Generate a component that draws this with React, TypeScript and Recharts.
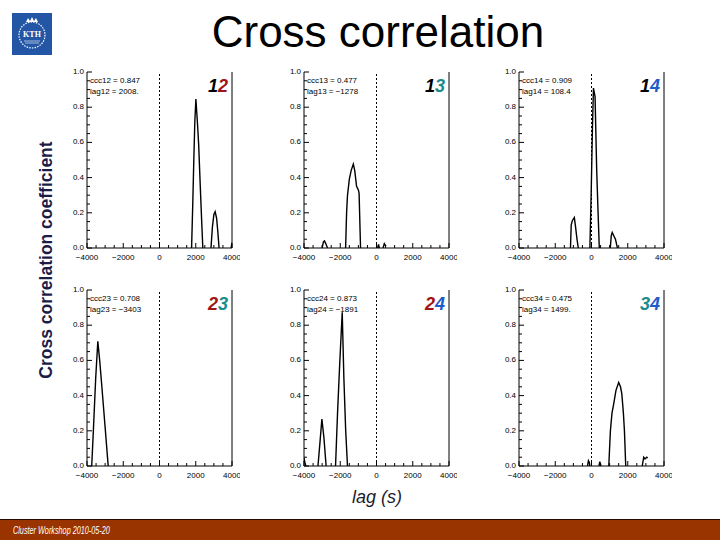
import { LineChart, Line, XAxis, YAxis, ReferenceLine } from 'recharts'

// tick positions (major + minor) and the labelled ones
const lagTicks = [-4000, -3500, -3000, -2500, -2000, -1500, -1000, -500, 0, 500, 1000, 1500, 2000, 2500, 3000, 3500, 4000]
const lagLabels = [-4000, -2000, 0, 2000, 4000]
const ccTicks = [0, 0.05, 0.1, 0.15, 0.2, 0.25, 0.3, 0.35, 0.4, 0.45, 0.5, 0.55, 0.6, 0.65, 0.7, 0.75, 0.8, 0.85, 0.9, 0.95, 1]
const ccLabels = [0, 0.2, 0.4, 0.6, 0.8, 1]

// curves: only the positive parts are drawn, null breaks the line
const lag12 = [1770, 1840, 1893, 1950, 2008, 2100, 2160, 2250, 2320, 2390, 2600, 2840, 2920, 3000, 3071, 3150, 3220, 3286, 3600, 3950, 4000]
const cc12 = [0, 0.27, 0.5, 0.72, 0.847, 0.7, 0.59, 0.35, 0.17, 0, null, 0, 0.12, 0.19, 0.206, 0.17, 0.09, 0, null, 0, 0.03]

const lag13 = [-3000, -2930, -2870, -2800, -2700, -2200, -1704, -1650, -1600, -1500, -1400, -1278, -1200, -1100, -1000, -960, -880, -300, 60, 110, 160, 250, 360, 430, 520]
const cc13 = [0, 0.035, 0.04, 0.025, 0, null, 0, 0.2, 0.3, 0.39, 0.44, 0.477, 0.44, 0.35, 0.33, 0.31, 0, null, 0, 0.02, 0, null, 0, 0.025, 0.01]

const lag14 = [-1160, -1120, -1060, -946, -880, -800, -730, -400, -89, -18, 54, 108, 196, 286, 357, 430, 700, 1036, 1090, 1143, 1230, 1321, 1429]
const cc14 = [0, 0.13, 0.155, 0.173, 0.12, 0.05, 0, null, 0, 0.31, 0.69, 0.909, 0.86, 0.445, 0.22, 0, null, 0, 0.07, 0.088, 0.07, 0.05, 0]

const lag23 = [-3740, -3640, -3520, -3403, -3300, -3180, -3000, -2830]
const cc23 = [0, 0.22, 0.5, 0.708, 0.6, 0.45, 0.22, 0]

const lag24 = [-4000, -3950, -3900, -3600, -3230, -3130, -3013, -2900, -2780, -2500, -2260, -2150, -2030, -1891, -1800, -1700, -1600]
const cc24 = [0.045, 0.02, 0, null, 0, 0.12, 0.267, 0.16, 0, null, 0, 0.3, 0.58, 0.873, 0.5, 0.2, 0]

const lag34 = [-220, -170, -120, -90, 150, 410, 460, 520, 700, 953, 1043, 1130, 1223, 1350, 1499, 1600, 1673, 1760, 1817, 1889, 2300, 2800, 2880, 2950, 3050, 3100]
const cc34 = [0, 0.03, 0.02, 0, null, 0, 0.025, 0, null, 0, 0.2, 0.3, 0.352, 0.43, 0.475, 0.45, 0.41, 0.3, 0.2, 0, null, 0, 0.05, 0.04, 0.05, 0.045]

const digitColor: Record<string, string> = { '1': '#000000', '2': '#a01414', '3': '#1a8c8c', '4': '#1f5cc8' }

const panels = [
  { id: '12', lags: lag12, cc: cc12, ccc: '0.847', lag: '2008.', left: 87, top: 72 },
  { id: '13', lags: lag13, cc: cc13, ccc: '0.477', lag: '\u22121278', left: 304, top: 72 },
  { id: '14', lags: lag14, cc: cc14, ccc: '0.909', lag: '108.4', left: 519, top: 72 },
  { id: '23', lags: lag23, cc: cc23, ccc: '0.708', lag: '\u22123403', left: 87, top: 290 },
  { id: '24', lags: lag24, cc: cc24, ccc: '0.873', lag: '\u22121891', left: 304, top: 290 },
  { id: '34', lags: lag34, cc: cc34, ccc: '0.475', lag: '1499.', left: 519, top: 290 },
]

const PW = 149
const PH = 176
const ML = 30
const MT = 4
const MB = 20
const MR = 4
const tickFont = '"Liberation Sans", Arial, sans-serif'

const fmtLag = (v: number) => (v < 0 ? '\u2212' + Math.abs(v) : String(v))

const BottomTick = ({ x, y, payload }: any) => {
  const major = lagLabels.includes(payload.value)
  return (
    <g>
      <line x1={x} y1={y} x2={x} y2={y - (major ? 5 : 3)} stroke="#000" />
      {major && (
        <text x={x} y={y + 12} textAnchor="middle" fontSize={8} fontFamily={tickFont} fill="#000">
          {fmtLag(payload.value)}
        </text>
      )}
    </g>
  )
}

const TopTick = ({ x, y, payload }: any) => {
  const major = lagLabels.includes(payload.value)
  return <line x1={x} y1={y} x2={x} y2={y + (major ? 5 : 3)} stroke="#000" />
}

const LeftTick = ({ x, y, payload }: any) => {
  const major = ccLabels.some((v) => Math.abs(v - payload.value) < 1e-6)
  return (
    <g>
      <line x1={x} y1={y} x2={x + (major ? 5 : 3)} y2={y} stroke="#000" />
      {major && (
        <text x={x - 3} y={y + 2} textAnchor="end" fontSize={8} fontFamily={tickFont} fill="#000">
          {payload.value.toFixed(1)}
        </text>
      )}
    </g>
  )
}

const RightTick = ({ x, y, payload }: any) => {
  const major = ccLabels.some((v) => Math.abs(v - payload.value) < 1e-6)
  return <line x1={x} y1={y} x2={x - (major ? 5 : 3)} y2={y} stroke="#000" />
}

function Panel({ p }: { p: (typeof panels)[number] }) {
  const data = p.lags.map((l, i) => ({ lag: l, cc: p.cc[i] }))
  return (
    <div style={{ position: 'absolute', left: p.left - ML, top: p.top - MT }}>
      <LineChart width={ML + PW + MR} height={MT + PH + MB} data={data} margin={{ top: MT, right: MR, left: 0, bottom: 0 }}>
        <XAxis dataKey="lag" type="number" domain={[-4000, 4000]} ticks={lagTicks} interval={0} allowDataOverflow
          height={MB} tickSize={0} tickMargin={0} tick={<BottomTick />} axisLine={{ stroke: '#000' }} />
        <XAxis xAxisId="top" orientation="top" dataKey="lag" type="number" domain={[-4000, 4000]} ticks={lagTicks} interval={0}
          height={0} tickSize={0} tickMargin={0} tick={<TopTick />} axisLine={{ stroke: '#000' }} />
        <YAxis type="number" domain={[0, 1]} ticks={ccTicks} interval={0} allowDataOverflow
          width={ML} tickSize={0} tickMargin={0} tick={<LeftTick />} axisLine={{ stroke: '#000' }} />
        <YAxis yAxisId="right" orientation="right" type="number" domain={[0, 1]} ticks={ccTicks} interval={0}
          width={MR} tickSize={0} tickMargin={0} tick={<RightTick />} axisLine={{ stroke: '#000' }} />
        <ReferenceLine x={0} stroke="#000" strokeDasharray="2 2" />
        <Line type="linear" dataKey="cc" stroke="#000" strokeWidth={1.4} dot={false} connectNulls={false} isAnimationActive={false} />
      </LineChart>
      <div style={{ position: 'absolute', left: ML + 3, top: MT + 3, fontFamily: tickFont, fontSize: 8, lineHeight: '11px', color: '#000', whiteSpace: 'pre' }}>
        <div>{`ccc${p.id} = ${p.ccc}`}</div>
        <div>{`lag${p.id} = ${p.lag}`}</div>
      </div>
      <div style={{ position: 'absolute', right: MR + 8, top: MT + 4, fontFamily: 'Arial, "Liberation Sans", sans-serif', fontSize: 18, fontWeight: 'bold', fontStyle: 'italic', lineHeight: '20px' }}>
        {p.id.split('').map((d, i) => (
          <span key={i} style={{ color: digitColor[d] }}>{d}</span>
        ))}
      </div>
    </div>
  )
}

export default function App() {
  return (
    <div style={{ position: 'relative', width: 720, height: 540, background: '#fff', overflow: 'hidden', fontFamily: 'Arial, "Liberation Sans", sans-serif' }}>
      <style>{'body{margin:0}'}</style>
      <svg width={42} height={44} style={{ position: 'absolute', left: 12, top: 13 }}>
        <rect x={0} y={0} width={40} height={42} fill="#2456a6" />
        <circle cx={20} cy={22} r={13} fill="none" stroke="#fff" strokeWidth={1.2} strokeDasharray="1.5 1.2" />
        <path d="M14 9 L16 5 L18 8 L20 4 L22 8 L24 5 L26 9 Z" fill="#fff" />
        <text x={20} y={24} textAnchor="middle" fontSize={8} fontWeight="bold" fill="#fff" fontFamily="serif">KTH</text>
        <line x1={12} y1={28} x2={28} y2={28} stroke="#fff" strokeWidth={0.6} />
        <line x1={13} y1={30} x2={27} y2={30} stroke="#fff" strokeWidth={0.6} />
      </svg>
      <div style={{ position: 'absolute', left: 0, width: 756, top: 5, textAlign: 'center', fontSize: 44, color: '#000', lineHeight: '54px' }}>
        Cross correlation
      </div>
      <div style={{ position: 'absolute', left: 46, top: 260, transform: 'translate(-50%, -50%) rotate(-90deg)', whiteSpace: 'nowrap', fontSize: 17.5, fontWeight: 'bold', color: '#1c1c48' }}>
        Cross correlation coefficient
      </div>
      {panels.map((p) => (
        <Panel key={p.id} p={p} />
      ))}
      <div style={{ position: 'absolute', left: 352, top: 487, fontSize: 18, fontStyle: 'italic', color: '#1c1c30' }}>lag (s)</div>
      <div style={{ position: 'absolute', left: 0, top: 519, width: 720, height: 21, background: '#993300', borderTop: '1px solid #2a0a00' }}>
        <div style={{ position: 'absolute', left: 13, top: 4, fontSize: 11, fontStyle: 'italic', color: '#fff', whiteSpace: 'nowrap', transform: 'scaleX(0.66)', transformOrigin: 'left center' }}>
          Cluster Workshop 2010-05-20
        </div>
      </div>
    </div>
  )
}
